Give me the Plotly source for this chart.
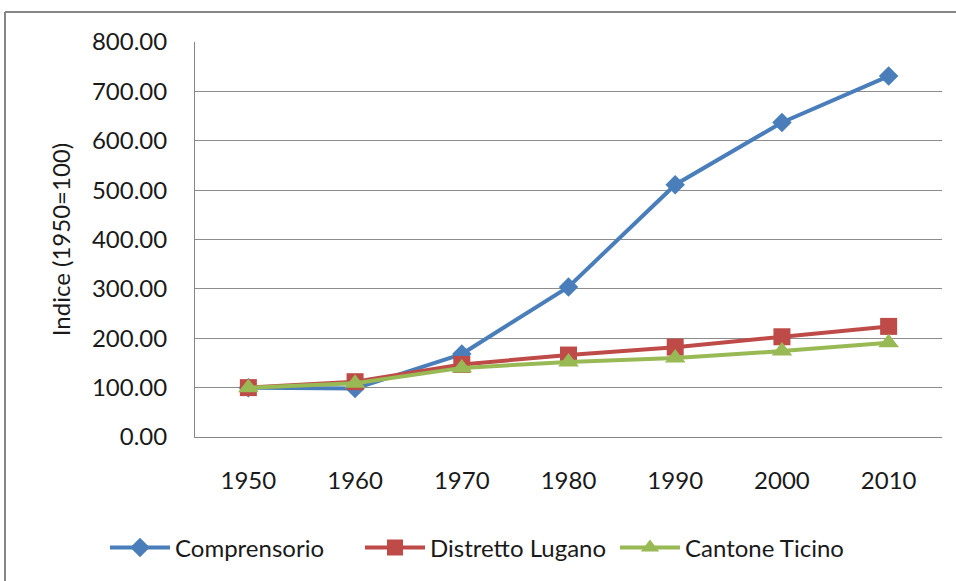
import plotly.graph_objects as go

years = ["1950", "1960", "1970", "1980", "1990", "2000", "2010"]
comprensorio = [100, 98, 168, 304, 511, 637, 731]
distretto = [100, 112, 147, 166, 182, 203, 224]
cantone = [100, 109, 140, 152, 160, 174, 191]
y_ticks = [0, 100, 200, 300, 400, 500, 600, 700, 800]

font = "Lato"
fig = go.Figure()
series = [
    ("Comprensorio", comprensorio, "#4A7EBB", "diamond", 15),
    ("Distretto Lugano", distretto, "#BE4B48", "square", 17),
    ("Cantone Ticino", cantone, "#98B954", "triangle-up", 18),
]
for name, vals, col, sym, sz in series:
    fig.add_trace(go.Scatter(
        x=years, y=vals, name=name, mode="lines+markers",
        line=dict(color=col, width=4),
        marker=dict(symbol=sym, size=sz, color=col),
    ))

L, R, T, B = 195, 14, 42, 144
W, H = 956, 581
pw, ph = W - L - R, H - T - B
fig.update_layout(
    width=W, height=H,
    margin=dict(l=L, r=R, t=T, b=B, autoexpand=False),
    paper_bgcolor="white", plot_bgcolor="white",
    font=dict(family=font, size=24, color="#1a1a1a"),
    showlegend=True,
    legend=dict(orientation="h", x=(105 - L) / pw, xanchor="left",
                y=-(548 - 437) / ph, yanchor="middle",
                font=dict(size=24), itemwidth=60, entrywidth=180, tracegroupgap=0),
    xaxis=dict(type="category", range=[-0.5, 6.5], showgrid=False,
               showline=True, linecolor="#868686", linewidth=1,
               ticks="", ticklabelstandoff=22, tickangle=0,
               tickfont=dict(size=24), mirror=False),
    yaxis=dict(range=[0, 800], tickvals=y_ticks,
               ticktext=[f"{v:.2f}" for v in y_ticks],
               showgrid=True, gridcolor="#8c8c8c", gridwidth=1,
               showline=True, linecolor="#868686", linewidth=1,
               ticks="", ticklabelstandoff=22,
               zeroline=False,
               title=dict(text="Indice (1950=100)", font=dict(size=24), standoff=14),
               tickfont=dict(size=24)),
    shapes=[
        dict(type="line", xref="paper", yref="paper",
             x0=(5 - L) / pw, x1=(5 - L) / pw, y0=-(H + 10 - (H - B)) / ph, y1=1 + (T - 12) / ph,
             line=dict(color="#868686", width=2)),
        dict(type="line", xref="paper", yref="paper",
             x0=(5 - L) / pw, x1=(960 - L) / pw, y0=1 + (T - 12) / ph, y1=1 + (T - 12) / ph,
             line=dict(color="#868686", width=2)),
    ],
)
fig.write_html("out.html", config={"displayModeBar": False},
               post_script="document.body.style.margin='0';")
